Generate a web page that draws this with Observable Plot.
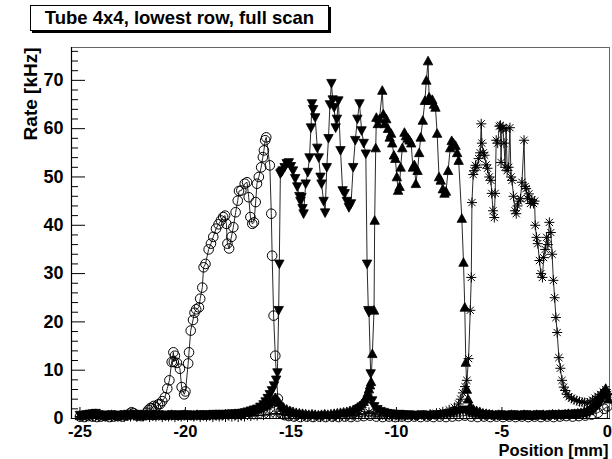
<!DOCTYPE html>
<html><head><meta charset="utf-8">
<script src="https://cdn.jsdelivr.net/npm/d3@7"></script>
<script src="https://cdn.jsdelivr.net/npm/@observablehq/plot@0.6"></script>
<style>
html,body{margin:0;padding:0;background:#fff;}
#wrap{position:relative;width:612px;height:459px;font-family:"Liberation Sans",Arial,sans-serif;}
#chart{position:absolute;left:0;top:0;}
#title{position:absolute;left:30px;top:5px;width:297px;height:24px;border:1px solid #000;box-shadow:2px 2px 0 #000;background:#fff;font-weight:bold;font-size:18.5px;text-align:center;line-height:24px;color:#000;white-space:nowrap;}
</style></head><body>
<div id="wrap"><div id="chart"></div><div id="title">Tube 4x4, lowest row, full scan</div></div>
<script>
// ---- data (position mm, rate kHz) ----
const circles = [
[-25.0,0.4],[-24.8,0.3],[-24.6,0.5],[-24.4,0.4],[-24.2,0.3],[-24.0,0.4],[-23.8,0.5],[-23.6,0.3],[-23.4,0.4],[-23.2,0.5],[-23.0,0.4],[-22.8,0.6],[-22.65,1.0],[-22.55,1.3],[-22.45,1.1],[-22.3,0.6],[-22.1,0.5],[-21.95,0.7],[-21.85,1.2],
[-21.75,1.8],[-21.65,2.2],[-21.59,2.1],[-21.5,2.6],[-21.4,2.3],[-21.3,2.9],[-21.2,3.0],[-21.1,3.6],[-20.97,4.4],[-20.86,6.2],[-20.76,7.9],[-20.65,11.7],[-20.57,13.7],[-20.55,11.7],[-20.5,13.0],[-20.4,11.5],[-20.26,10.3],[-20.18,6.5],[-20.06,5.0],[-20.0,5.6],
[-19.87,11.4],[-19.83,13.7],[-19.75,18.2],[-19.64,20.4],[-19.57,21.9],[-19.49,22.6],[-19.36,23.0],[-19.3,24.8],[-19.2,27.1],[-19.14,31.3],[-19.05,32.0],[-18.9,35.0],[-18.79,36.2],[-18.68,37.6],[-18.55,39.3],[-18.43,40.2],[-18.32,41.0],[-18.21,41.7],[-18.12,42.0],[-18.06,40.3],[-18.01,36.2],[-17.93,35.2],[-17.82,37.6],[-17.73,39.6],[-17.62,42.7],[-17.52,45.1],[-17.46,47.1],[-17.35,47.2],[-17.19,48.6],[-17.08,48.9],[-17.0,45.8],[-16.92,41.7],[-16.83,40.3],[-16.75,40.6],[-16.67,44.8],[-16.61,48.6],[-16.52,50.0],[-16.41,52.0],[-16.33,54.1],[-16.28,55.5],[-16.22,57.6],[-16.17,58.2],[-16.0,52.4],[-15.93,42.4],[-15.89,33.7],[-15.82,21.3],[-15.74,13.0],[-15.62,4.1],[-15.56,2.0],[-15.45,1.0],[-15.3,0.7],[-15.1,0.5],
[-14.85,0.4],[-14.55,0.3],[-14.25,0.4],[-13.95,0.3],[-13.65,0.4],[-13.35,0.3],[-13.05,0.4],[-12.75,0.3],[-12.45,0.4],[-12.15,0.3],[-11.85,0.4],[-11.55,0.5],[-11.25,0.6],[-10.95,0.4],[-10.65,0.3],[-10.35,0.4],[-10.05,0.3],[-9.75,0.4],[-9.45,0.3],[-9.15,0.4],[-8.85,0.3],[-8.55,0.4],[-8.25,0.3],[-7.95,0.4],[-7.65,0.3],[-7.35,0.4],[-7.05,0.5],[-6.75,0.6],[-6.45,0.4],[-6.15,0.3],[-5.85,0.4],[-5.55,0.3],[-5.25,0.4],[-4.95,0.3],[-4.65,0.4],[-4.35,0.3],[-4.05,0.4],[-3.75,0.3],[-3.45,0.4],[-3.15,0.3],[-2.85,0.4],[-2.55,0.3],[-2.25,0.4],[-1.95,0.5],[-1.65,0.4],[-1.35,0.5],[-1.05,0.6],[-0.75,0.8],[-0.45,1.2],[-0.15,2.0],[0.0,2.5]
];
const downTriangles = [
[-25.0,0.7],[-24.85,0.6],[-24.7,0.8],[-24.55,0.9],[-24.4,1.0],[-24.25,1.1],[-24.1,0.8],[-23.95,0.7],[-23.8,0.6],[-23.65,0.7],[-23.5,0.8],[-23.35,0.6],[-23.2,0.7],[-23.05,0.6],[-22.9,0.8],[-22.75,0.7],[-22.6,0.6],[-22.45,0.8],[-22.3,0.9],[-22.15,0.7],[-22.0,0.6],[-21.85,0.7],[-21.7,0.8],[-21.55,0.6],[-21.4,0.7],[-21.25,0.8],[-21.1,0.7],[-20.95,0.6],[-20.8,0.7],[-20.65,0.8],[-20.5,0.7],[-20.35,0.6],[-20.2,0.8],[-20.05,0.7],[-19.9,0.8],[-19.75,0.7],[-19.6,0.6],[-19.45,0.7],[-19.3,0.8],[-19.15,0.7],[-19.0,0.8],[-18.85,0.7],[-18.7,0.8],[-18.55,0.9],[-18.4,0.8],[-18.25,0.9],[-18.1,0.8],[-17.95,0.9],[-17.8,1.0],[-17.65,0.9],[-17.5,1.0],[-17.35,1.1],
[-17.2,1.2],[-17.05,1.4],[-16.9,1.6],[-16.75,1.8],[-16.6,2.0],[-16.45,2.4],[-16.3,2.9],[-16.2,3.5],[-16.1,4.2],[-16.0,5.0],[-15.9,5.8],[-15.8,6.8],[-15.7,8.0],[-15.64,9.5],[-15.58,22.4],[-15.55,32.0],[-15.5,50.7],[-15.45,51.0],[-15.4,51.3],[-15.3,52.0],[-15.2,52.8],[-15.1,53.0],[-15.0,52.2],[-14.9,51.3],[-14.8,49.7],[-14.7,48.0],[-14.6,46.0],[-14.55,45.0],[-14.5,45.8],[-14.45,43.5],[-14.4,42.4],[-14.3,48.6],[-14.2,51.0],[-14.12,54.0],[-14.05,60.2],[-14.0,65.2],[-13.95,64.0],[-13.85,62.3],[-13.75,56.0],[-13.68,54.0],[-13.6,50.0],[-13.55,48.6],[-13.45,45.0],[-13.38,42.6],[-13.3,52.0],[-13.22,58.0],[-13.15,65.0],[-13.08,69.4],[-13.02,66.0],[-12.95,64.4],[-12.88,60.2],[-12.82,62.0],[-12.75,65.8],[-12.65,55.5],[-12.55,47.2],[-12.45,46.6],[-12.35,45.0],[-12.25,43.7],[-12.15,44.5],[-12.05,52.0],[-11.95,57.6],[-11.85,62.0],[-11.75,65.2],[-11.65,59.6],[-11.55,57.0],[-11.45,54.8],[-11.39,32.0],[-11.33,22.4],[-11.3,22.0],[-11.22,9.3],[-11.15,3.7],[-11.05,2.5],[-10.9,1.9],
[-10.75,1.5],[-10.6,1.3],[-10.45,1.1],[-10.3,1.0],[-10.15,0.9],[-10.0,0.8],[-9.85,0.9],[-9.7,0.8],[-9.55,0.7],[-9.4,0.8],[-9.25,0.7],[-9.1,0.6],[-8.95,0.7],[-8.8,0.8],[-8.65,0.7],[-8.5,0.6],[-8.35,0.7],[-8.2,0.8],[-8.05,0.7],[-7.9,0.8],[-7.75,0.9],[-7.6,1.0],[-7.45,1.1],[-7.3,1.2],[-7.15,1.4],[-7.0,1.6],[-6.85,1.8],[-6.7,1.6],[-6.55,1.3],[-6.4,1.1],[-6.25,1.0],[-6.1,0.9],[-5.95,0.8],[-5.8,0.7],[-5.65,0.8],[-5.5,0.7],[-5.35,0.6],[-5.2,0.7],[-5.05,0.8],[-4.9,0.7],[-4.75,0.6],[-4.6,0.7],[-4.45,0.8],[-4.3,0.7],[-4.15,0.6],[-4.0,0.7],[-3.85,0.8],[-3.7,0.7],[-3.55,0.6],[-3.4,0.7],[-3.25,0.8],[-3.1,0.7],[-2.95,0.6],[-2.8,0.7],[-2.65,0.8],[-2.5,0.7],[-2.35,0.8],[-2.2,0.7],[-2.05,0.8],[-1.9,0.9],[-1.75,0.8],[-1.6,0.9],[-1.45,1.0],[-1.3,0.9],[-1.15,1.0],[-1.0,1.1],[-0.85,1.3],[-0.7,1.7],[-0.55,2.3],[-0.4,3.0],[-0.3,3.8],[-0.2,4.5],[-0.1,5.2],[0.0,4.4]
];
const upTriangles = [
[-25.0,0.6],[-24.85,0.7],[-24.7,0.8],[-24.55,0.7],[-24.4,0.9],[-24.25,1.0],[-24.1,0.8],[-23.95,0.7],[-23.8,0.6],[-23.65,0.7],[-23.5,0.8],[-23.35,0.7],[-23.2,0.6],[-23.05,0.7],[-22.9,0.8],[-22.75,0.7],[-22.6,0.9],[-22.45,0.8],[-22.3,0.7],[-22.15,0.6],[-22.0,0.7],[-21.85,0.8],[-21.7,0.7],[-21.55,0.6],[-21.4,0.7],[-21.25,0.8],[-21.1,0.7],[-20.95,0.6],[-20.8,0.7],[-20.65,0.8],[-20.5,0.7],[-20.35,0.6],[-20.2,0.7],[-20.05,0.8],[-19.9,0.7],[-19.75,0.6],[-19.6,0.7],[-19.45,0.8],[-19.3,0.7],[-19.15,0.6],[-19.0,0.7],[-18.85,0.8],[-18.7,0.7],[-18.55,0.8],[-18.4,0.7],[-18.25,0.8],[-18.1,0.9],[-17.95,0.8],[-17.8,0.9],[-17.65,1.0],[-17.5,1.0],[-17.35,1.1],
[-17.2,1.2],[-17.05,1.3],[-16.9,1.5],[-16.75,1.7],[-16.6,1.9],[-16.45,2.1],[-16.3,2.4],[-16.15,2.7],[-16.05,3.0],[-15.95,3.4],[-15.85,3.8],[-15.75,4.3],[-15.65,3.9],[-15.55,3.3],[-15.45,2.7],[-15.35,2.3],[-15.2,1.9],[-15.05,1.6],[-14.9,1.4],[-14.75,1.2],[-14.6,1.1],[-14.45,1.0],[-14.3,0.9],[-14.15,0.8],[-14.0,0.9],[-13.85,0.8],[-13.7,0.7],[-13.55,0.8],[-13.4,0.9],[-13.25,0.8],[-13.1,0.9],[-12.95,1.0],[-12.8,1.1],[-12.65,1.2],[-12.5,1.3],[-12.35,1.4],[-12.2,1.6],[-12.05,1.8],[-11.95,2.0],[-11.85,2.3],[-11.75,2.6],[-11.65,3.0],[-11.55,3.5],[-11.48,4.0],[-11.42,4.6],[-11.36,5.3],[-11.3,6.1],[-11.25,6.9],[-11.2,7.6],
[-11.14,13.4],[-11.06,22.4],[-11.03,41.0],[-10.98,56.0],[-10.95,62.3],[-10.88,61.0],[-10.8,62.0],[-10.67,67.9],[-10.62,63.0],[-10.55,61.0],[-10.48,62.0],[-10.4,60.0],[-10.32,58.2],[-10.25,59.0],[-10.2,57.0],[-10.12,54.5],[-10.05,53.8],[-9.98,50.0],[-9.92,47.2],[-9.85,48.0],[-9.8,52.0],[-9.72,56.0],[-9.62,59.2],[-9.55,58.5],[-9.45,58.0],[-9.38,57.6],[-9.3,57.0],[-9.22,52.0],[-9.15,52.5],[-9.08,48.6],[-9.0,51.3],[-8.92,55.0],[-8.85,58.2],[-8.75,61.7],[-8.65,65.8],[-8.58,70.0],[-8.5,74.0],[-8.45,66.5],[-8.38,65.8],[-8.3,66.0],[-8.22,65.0],[-8.15,64.4],[-8.07,59.0],[-7.98,50.0],[-7.9,49.3],[-7.8,47.5],[-7.72,46.6],[-7.65,47.0],[-7.55,51.3],[-7.45,56.0],[-7.38,57.5],[-7.3,57.0],[-7.2,56.5],[-7.12,55.0],[-7.05,53.4],[-6.9,41.4],[-6.82,32.3],[-6.76,23.0],[-6.71,11.6],[-6.66,6.0],[-6.6,4.0],[-6.5,2.6],[-6.35,1.9],[-6.2,1.6],[-6.05,1.4],
[-5.9,1.1],[-5.75,1.0],[-5.6,0.9],[-5.45,0.8],[-5.3,0.7],[-5.15,0.8],[-5.0,0.7],[-4.85,0.6],[-4.7,0.7],[-4.55,0.8],[-4.4,0.7],[-4.25,0.6],[-4.1,0.7],[-3.95,0.8],[-3.8,0.7],[-3.65,0.6],[-3.5,0.7],[-3.35,0.8],[-3.2,0.7],[-3.05,0.8],[-2.9,0.7],[-2.75,0.8],[-2.6,0.9],[-2.45,0.8],[-2.3,0.9],[-2.15,0.8],[-2.0,0.9],[-1.85,1.0],[-1.7,0.9],[-1.55,1.0],[-1.4,1.1],[-1.25,1.2],[-1.1,1.4],[-0.95,1.7],[-0.8,2.1],[-0.65,2.7],[-0.5,3.4],[-0.35,4.3],[-0.2,5.4],[-0.08,6.2],[0.05,4.0]
];
const stars = [
[-25.0,0.4],[-24.7,0.3],[-24.4,0.4],[-24.1,0.3],[-23.8,0.4],[-23.5,0.3],[-23.2,0.4],[-22.9,0.3],[-22.6,0.4],[-22.3,0.3],[-22.0,0.4],[-21.7,0.3],[-21.4,0.4],[-21.1,0.3],[-20.8,0.4],[-20.5,0.3],[-20.2,0.4],[-19.9,0.3],[-19.6,0.4],[-19.3,0.3],[-19.0,0.4],[-18.7,0.3],[-18.4,0.4],[-18.1,0.3],[-17.8,0.4],[-17.5,0.3],[-17.2,0.4],[-16.9,0.5],[-16.6,0.6],[-16.3,0.7],[-16.0,0.9],[-15.7,1.0],[-15.4,0.8],[-15.1,0.6],[-14.8,0.5],[-14.5,0.4],[-14.2,0.3],[-13.9,0.4],[-13.6,0.3],[-13.3,0.4],[-13.0,0.3],[-12.7,0.4],[-12.4,0.5],[-12.1,0.6],[-11.8,0.8],[-11.5,1.0],[-11.3,1.3],[-11.1,1.0],[-10.8,0.7],[-10.5,0.5],[-10.2,0.4],[-9.9,0.3],[-9.6,0.4],[-9.3,0.5],[-9.0,0.6],[-8.7,0.7],[-8.4,0.9],[-8.1,1.1],[-7.8,1.4],[-7.5,1.8],[-7.25,2.3],[-7.05,3.0],[-6.95,4.0],[-6.85,5.3],[-6.75,6.6],
[-6.66,7.9],[-6.58,12.4],[-6.5,22.4],[-6.45,29.2],[-6.42,44.7],[-6.36,50.5],[-6.32,51.3],[-6.25,52.4],[-6.18,52.0],[-6.1,53.8],[-6.03,55.0],[-5.98,61.0],[-5.95,57.0],[-5.88,55.0],[-5.82,54.5],[-5.75,52.5],[-5.68,51.8],[-5.6,50.0],[-5.52,49.3],[-5.48,46.6],[-5.42,43.0],[-5.36,41.6],[-5.32,46.6],[-5.27,57.6],[-5.2,57.0],[-5.12,60.5],[-5.07,60.7],[-5.04,53.0],[-5.0,60.0],[-4.95,60.2],[-4.9,57.0],[-4.85,52.0],[-4.8,60.0],[-4.75,51.3],[-4.68,52.0],[-4.62,60.2],[-4.57,50.0],[-4.52,49.3],[-4.45,46.0],[-4.38,43.0],[-4.32,42.4],[-4.26,44.0],[-4.2,45.0],[-4.12,45.5],[-4.05,48.9],[-3.95,57.6],[-3.9,48.0],[-3.85,47.6],[-3.78,45.5],[-3.72,46.5],[-3.65,44.5],[-3.58,45.3],[-3.5,44.5],[-3.45,45.0],[-3.42,40.0],[-3.36,37.5],[-3.3,36.2],[-3.22,32.7],[-3.15,30.0],[-3.08,29.2],[-3.02,33.3],[-2.95,35.0],[-2.88,37.5],[-2.82,36.0],[-2.75,40.6],[-2.68,38.5],[-2.62,34.0],[-2.56,28.6],[-2.5,25.0],[-2.44,20.9],[-2.38,17.8],[-2.3,12.6],[-2.23,10.4],[-2.15,7.9],[-2.07,6.5],[-2.0,5.8],[-1.92,5.0],[-1.82,4.5],[-1.7,4.2],[-1.58,3.9],[-1.45,3.7],[-1.32,3.5],[-1.2,3.4],[-1.08,3.3],[-0.95,3.2],[-0.82,3.4],[-0.7,3.8],[-0.58,4.2],[-0.45,4.6],[-0.32,5.0],[-0.2,5.5],[-0.08,6.0],[0.02,5.0]
];
const yMajor = [0,10,20,30,40,50,60,70];
const yMinor = [2,4,6,8,12,14,16,18,22,24,26,28,32,34,36,38,42,44,46,48,52,54,56,58,62,64,66,68,72,74,76];
const xMajor = [-25,-20,-15,-10,-5,0];
const xMinor = [-24,-23,-22,-21,-19,-18,-17,-16,-14,-13,-12,-11,-9,-8,-7,-6,-4,-3,-2,-1];
const xLabel = "Position [mm]";
const yLabel = "Rate [kHz]";

// ---- layout ----
const W = 612, H = 459, mL = 71, mR = 3, mT = 47, mB = 41;
const pw = W - mL - mR, ph = H - mT - mB;
const rows = a => a.map(([x, y]) => ({x, y}));
const rad = s => Math.sqrt(s / Math.PI);
const triUp = {draw(c, s){const q = rad(s); c.moveTo(0, -q); c.lineTo(q*0.98, q*0.8); c.lineTo(-q*0.98, q*0.8); c.closePath();}};
const triDown = {draw(c, s){const q = rad(s); c.moveTo(0, q); c.lineTo(q*0.98, -q*0.8); c.lineTo(-q*0.98, -q*0.8); c.closePath();}};
const star8 = {draw(c, s){const q = rad(s), d = q*0.72; c.moveTo(-q,0); c.lineTo(q,0); c.moveTo(0,-q); c.lineTo(0,q); c.moveTo(-d,-d); c.lineTo(d,d); c.moveTo(-d,d); c.lineTo(d,-d);}};

const lineOpt = {x: "x", y: "y", stroke: "#111", strokeWidth: 0.9};
const C = rows(circles), D = rows(downTriangles), U = rows(upTriangles), S = rows(stars);

const chart = Plot.plot({
  width: W, height: H, marginLeft: mL, marginRight: mR, marginTop: mT, marginBottom: mB,
  x: {domain: [-25.4, 0.1]},
  y: {domain: [0, 76.8]},
  style: {fontFamily: "'Liberation Sans', Arial, sans-serif", background: "#fff", color: "#000", overflow: "visible"},
  marks: [
    Plot.frame({stroke: "#666", strokeWidth: 1}),
    Plot.line(C, lineOpt),
    Plot.dot(C, {x: "x", y: "y", symbol: "circle", r: 4.8, stroke: "#000", strokeWidth: 1, fill: "none"}),
    Plot.line(D, lineOpt),
    Plot.dot(D, {x: "x", y: "y", symbol: triDown, r: 4.8, fill: "#000", stroke: "#000", strokeWidth: 0.8}),
    Plot.line(U, lineOpt),
    Plot.dot(U, {x: "x", y: "y", symbol: triUp, r: 4.8, fill: "#000", stroke: "#000", strokeWidth: 0.8}),
    Plot.line(S, lineOpt),
    Plot.dot(S, {x: "x", y: "y", symbol: star8, r: 5, stroke: "#000", strokeWidth: 1, fill: "none"}),
    Plot.frame({anchor: "left", stroke: "#000", strokeWidth: 1.2}),
    Plot.frame({anchor: "bottom", stroke: "#000", strokeWidth: 1.2}),
    Plot.tickY(yMajor, {y: d => d, insetRight: pw - 14, stroke: "#000"}),
    Plot.tickY(yMinor, {y: d => d, insetRight: pw - 7, stroke: "#000"}),
    Plot.tickX(xMajor, {x: d => d, insetTop: ph - 11, stroke: "#000"}),
    Plot.tickX(xMinor, {x: d => d, insetTop: ph - 6, stroke: "#000"}),
    Plot.axisY({ticks: yMajor, tickSize: 0, tickPadding: 8, fontSize: 18, fontWeight: "bold", label: null, tickFormat: d => String(d)}),
    Plot.axisX({ticks: xMajor, tickSize: 0, tickPadding: 7, fontSize: 16.5, fontWeight: "bold", label: null, tickFormat: d => String(d)}),
    Plot.text([yLabel], {frameAnchor: "top-left", dx: -41, dy: 0, rotate: -90, textAnchor: "end", lineAnchor: "middle", fontSize: 19, fontWeight: "bold", fill: "#000"}),
    Plot.text([xLabel], {frameAnchor: "bottom-right", dx: -1, dy: 32.5, textAnchor: "end", lineAnchor: "middle", fontSize: 16.5, fontWeight: "bold", fill: "#000"})
  ]
});
document.getElementById("chart").appendChild(chart);
</script>
</body></html>
